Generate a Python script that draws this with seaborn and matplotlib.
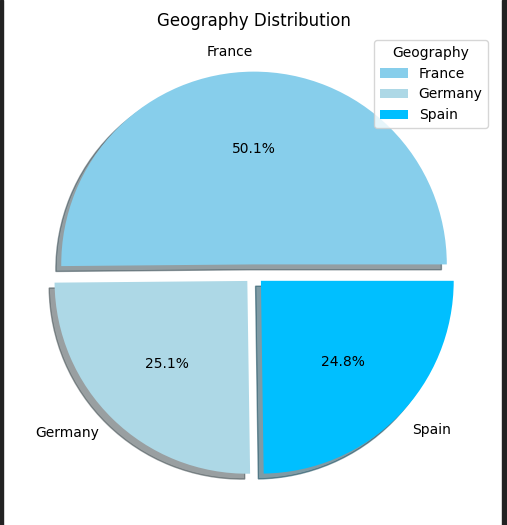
import matplotlib
matplotlib.use("Agg")
import matplotlib.pyplot as plt
from matplotlib.patches import Rectangle
import seaborn as sns

# Customer counts per country
geography = ["France", "Germany", "Spain"]
counts = [5014, 2509, 2477]
slice_colors = ["skyblue", "lightblue", "deepskyblue"]

palette = sns.color_palette(slice_colors)

fig = plt.figure(figsize=(5.07, 5.25), dpi=100)
ax = fig.add_axes([0.0256, 0.019, 0.951, 0.918])

ax.pie(counts, labels=geography, colors=palette, autopct="%1.1f%%",
       explode=(0.05, 0.05, 0.05), shadow=True, startangle=0)
ax.set_title("Geography Distribution", pad=5)
ax.legend(title="Geography", loc="upper right")

# dark screen edges
fig.add_artist(Rectangle((0, 0), 3 / 507, 1, transform=fig.transFigure, color="#222222"))
fig.add_artist(Rectangle((502 / 507, 0), 5 / 507, 1, transform=fig.transFigure, color="#222222"))

fig.savefig("out.png", dpi=100)
plt.close(fig)
